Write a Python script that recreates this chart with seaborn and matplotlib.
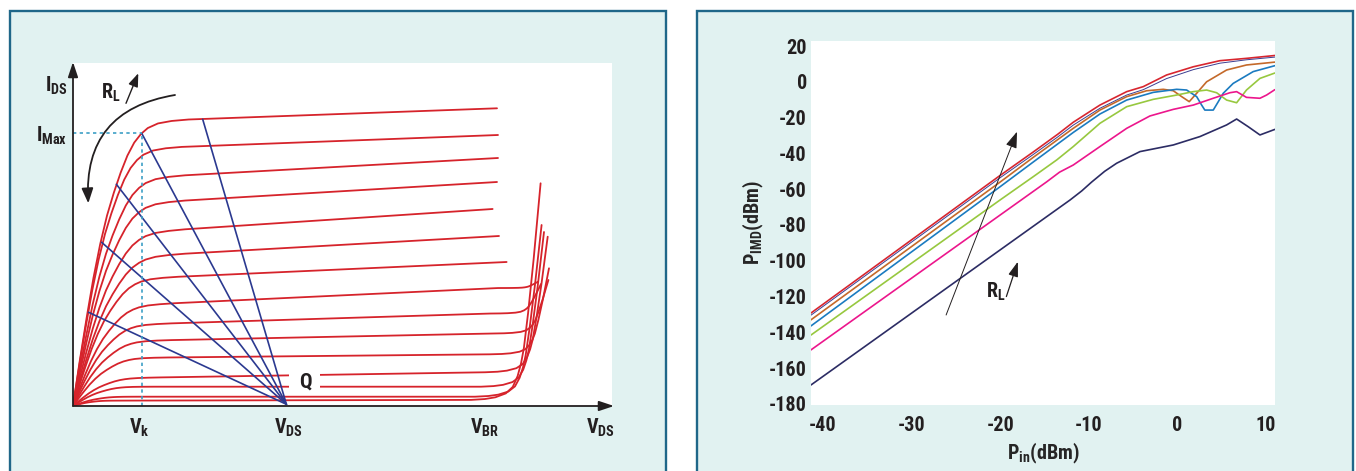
import matplotlib
matplotlib.use('Agg')
import matplotlib.pyplot as plt
from matplotlib import font_manager
from matplotlib.patches import Rectangle
import seaborn as sns

# ---------------- left panel: I-V family (arbitrary units) ----------------
# normalised knee shape: V / V_knee  ->  I / I_level
KNEE_U = [0, 0.1, 0.2, 0.3, 0.4, 0.5, 0.6, 0.7, 0.8, 0.9, 1.0, 1.1, 1.25, 1.45, 1.7, 2.0]
KNEE_F = [0, 0.16, 0.31, 0.45, 0.57, 0.67, 0.75, 0.82, 0.88, 0.925, 0.955, 0.975, 0.99, 0.997, 1.0, 1.0]

# upper curves: stay in saturation up to the end
FLAT_LEVEL = [282.3, 255.0, 224.5, 198.8, 169.3, 146.0, 124.5]
FLAT_VK = [68, 64, 66, 66, 66, 66, 62]
FLAT_VEND = [424, 425, 425, 424, 419.6, 426, 433.6]
FLAT_IEND = [297.7, 271.0, 248.0, 224.0, 197.0, 170.0, 144.0]

# lower curves: bend up into breakdown
BD_LEVEL = [98.0, 79.6, 63.9, 47.6, 27.2, 19.3, 9.3, 5.3]
BD_VK = [60, 58, 58, 56, 52, 48, 40, 30]
BD_I347 = [114.3, 90.3, 71.0, 51.0, 32.7, 19.3, 9.3, 6.0]
BD_VA = [425, 417, 420, 417, 412, 408, 402, 398]
BD_VEND = [465, 468, 475.4, 476, 474.7, 471, 468.6, 467.6]
BD_IEND = [124.3, 122.0, 126.0, 137.7, 169.3, 174.0, 181.0, 222.7]
# breakdown shape: fraction of the way from bend start to end point
BR_DV = [0, 0.2, 0.35, 0.5, 0.6, 0.67, 0.72, 0.76, 0.82, 0.9, 1.0]
BR_DI = [0, 0.004, 0.012, 0.03, 0.06, 0.11, 0.17, 0.24, 0.40, 0.65, 1.0]

# load lines from the Q point
Q_POINT = (213.4, 1.7)
LOAD_V = [129.7, 68.7, 43.4, 28.6, 15.5]
LOAD_I = [286.7, 272.7, 221.7, 163.7, 93.7]
V_KNEE, I_MAX = 68.7, 272.7

LEFT_XTICKS = [66, 215, 412, 527]
LEFT_XLABELS = [r'$\mathrm{V_{k}}$', r'$\mathrm{V_{DS}}$', r'$\mathrm{V_{BR}}$', r'$\mathrm{V_{DS}}$']
LEFT_YTICKS = [272.7, 323]
LEFT_YLABELS = [r'$\mathrm{I_{Max}}$', r'$\mathrm{I_{DS}}$']

# ---------------- right panel: P_IMD vs P_in ----------------
RED_X = [-41.35, -20.0, -16.26, -13.5, -11.75, -8.74, -5.72, -3.85, -1.22, 1.8, 4.8, 7.8, 11.0]
RED_Y = [-129.2, -52.3, -39.2, -29.3, -22.6, -13.0, -5.5, -2.7, 3.8, 8.4, 11.8, 13.1, 14.7]
NAVY_X = RED_X
NAVY_Y = [-130.4, -53.6, -40.6, -30.8, -24.2, -14.8, -7.4, -4.4, 1.8, 6.8, 10.4, 12.3, 13.8]
BROWN_X = [-41.35, -20.0, -16.26, -11.75, -8.74, -5.72, -3.47, -1.59, -0.46, 0.49, 1.34, 2.18, 3.3, 5.56, 7.8, 11.0]
BROWN_Y = [-133.0, -56.0, -42.2, -26.0, -15.8, -8.3, -5.0, -4.2, -5.0, -8.3, -11.1, -6.4, 0.0, 6.6, 9.4, 11.0]
BLUE_X = [-41.35, -20.0, -16.26, -11.75, -8.74, -5.72, -2.72, -0.08, 1.05, 2.18, 2.74, 3.1, 4.05, 4.62, 5.18, 6.3, 8.56, 11.0]
BLUE_Y = [-136.4, -58.6, -44.8, -28.3, -18.0, -10.2, -5.9, -4.2, -4.6, -8.3, -13.0, -15.8, -15.8, -11.1, -6.4, -0.9, 5.7, 9.0]
GREEN_X = [-41.35, -20.0, -16.26, -13.6, -12.6, -11.75, -8.74, -5.72, -2.72, -0.08, 1.8, 3.3, 4.43, 5.56, 6.69, 7.8, 9.32, 11.0]
GREEN_Y = [-141.5, -66.0, -53.0, -43.6, -39.6, -36.2, -23.2, -13.9, -9.8, -7.4, -5.5, -4.6, -6.1, -10.2, -11.7, -4.6, 1.9, 4.9]
PINK_X = [-41.35, -14.75, -13.3, -11.75, -8.74, -5.72, -3.1, -0.46, 1.8, 4.05, 5.93, 6.69, 7.8, 9.32, 10.07, 11.0]
PINK_Y = [-149.8, -55.9, -50.5, -46.5, -36.2, -26.0, -19.1, -15.4, -13.0, -9.2, -6.1, -5.5, -8.7, -9.2, -7.4, -4.4]
DARK_X = [-41.35, -12.1, -10.8, -9.67, -8.2, -6.85, -4.22, -0.46, 2.55, 5.56, 6.69, 8.0, 9.32, 11.0]
DARK_Y = [-169.4, -66.0, -61.0, -56.0, -50.0, -45.5, -39.0, -35.3, -30.6, -24.1, -20.8, -25.1, -29.7, -26.6]

RED = '#d6232b'
INK = '#231f20'
PANEL = '#e1f2f1'
EDGE = '#1f6789'

sns.set_style('white')
names = {f.name for f in font_manager.fontManager.ttflist}
FONT = next((n for n in ['Liberation Sans Narrow', 'Roboto Condensed', 'Open Sans Condensed',
                         'Roboto', 'Liberation Sans'] if n in names), 'DejaVu Sans')
plt.rcParams['font.family'] = [FONT, 'DejaVu Sans']
plt.rcParams['font.weight'] = 'bold'
plt.rcParams['mathtext.fontset'] = 'custom'
plt.rcParams['mathtext.rm'] = FONT + ':bold'
plt.rcParams['mathtext.it'] = FONT + ':bold'
plt.rcParams['mathtext.bf'] = FONT + ':bold'
plt.rcParams['axes.unicode_minus'] = False
plt.rcParams['text.color'] = INK

W, H = 1356, 471
fig = plt.figure(figsize=(W / 100, H / 100), dpi=100)
for x0, x1 in [(9.6, 666), (697, 1353)]:
    fig.patches.append(Rectangle((x0 / W, -0.05), (x1 - x0) / W, (H - 11) / H + 0.05,
                                 transform=fig.transFigure, facecolor=PANEL,
                                 edgecolor=EDGE, lw=1.7, zorder=-10))

# ================= left panel =================
axL = fig.add_axes([73 / W, 65 / H, 539 / W, 343 / H])
axL.set_facecolor('white')

for lvl, vk, vend, iend in zip(FLAT_LEVEL, FLAT_VK, FLAT_VEND, FLAT_IEND):
    g = (iend - lvl) / vend
    v = [u * vk for u in KNEE_U] + [vend]
    i = [lvl * f + g * u * vk for u, f in zip(KNEE_U, KNEE_F)] + [iend]
    sns.lineplot(x=v, y=i, ax=axL, color=RED, lw=1.3, sort=False, estimator=None)

for lvl, vk, i347, va, vend, iend in zip(BD_LEVEL, BD_VK, BD_I347, BD_VA, BD_VEND, BD_IEND):
    g = (i347 - lvl) / 347
    ia = lvl + g * va
    v = [u * vk for u in KNEE_U] + [va + d * (vend - va) for d in BR_DV]
    i = [lvl * f + g * u * vk for u, f in zip(KNEE_U, KNEE_F)] + [ia + d * (iend - ia) for d in BR_DI]
    sns.lineplot(x=v, y=i, ax=axL, color=RED, lw=1.3, sort=False, estimator=None)

# gap in the curves around the Q label
axL.add_patch(Rectangle((216, 14), 31, 22, facecolor='white', edgecolor='none', zorder=2.5))
axL.text(232.6, 24.3, 'Q', fontsize=15, ha='center', va='center', zorder=4)

for lv, li in zip(LOAD_V, LOAD_I):
    sns.lineplot(x=[Q_POINT[0], lv], y=[Q_POINT[1], li], ax=axL, color='#2b3990',
                 lw=1.2, sort=False, estimator=None, zorder=3)

axL.plot([0, V_KNEE], [I_MAX, I_MAX], color='#3d9fc6', lw=1.2, dashes=(2, 2), zorder=3)
axL.plot([V_KNEE, V_KNEE], [0, I_MAX], color='#3d9fc6', lw=1.2, dashes=(2, 2), zorder=3)

arrow_axis = dict(arrowstyle='-|>,head_length=0.9,head_width=0.3', color=INK, lw=1.3,
                  shrinkA=0, shrinkB=0)
axL.annotate('', xy=(0, 344), xytext=(0, 0), arrowprops=arrow_axis, annotation_clip=False)
axL.annotate('', xy=(541, 0), xytext=(0, 0), arrowprops=arrow_axis, annotation_clip=False)

axL.annotate('', xy=(15.3, 202.7), xytext=(102, 311),
             arrowprops=dict(arrowstyle='-|>,head_length=0.9,head_width=0.35', color=INK,
                             lw=1.3, shrinkA=0, shrinkB=0, connectionstyle='arc3,rad=0.45'))
axL.annotate('', xy=(65.3, 332.7), xytext=(53, 302.7),
             arrowprops=dict(arrowstyle='-|>,head_length=0.8,head_width=0.3', color=INK,
                             lw=1.0, shrinkA=0, shrinkB=0))
axL.text(38, 313, r'$\mathrm{R_{L}}$', fontsize=14.5, ha='center', va='center')

axL.set_xlim(0, 539)
axL.set_ylim(0, 343)
axL.set_xticks(LEFT_XTICKS, labels=LEFT_XLABELS)
axL.set_yticks(LEFT_YTICKS, labels=LEFT_YLABELS)
axL.tick_params(length=0, labelsize=14.5, colors=INK)
axL.tick_params(axis='x', pad=8)
axL.tick_params(axis='y', pad=4)
sns.despine(ax=axL, left=True, bottom=True)

# ================= right panel =================
axR = fig.add_axes([811 / W, 66 / H, 464 / W, 364 / H])
axR.set_facecolor('white')

series = [
    (RED_X, RED_Y, '#d8262f', 1.2),
    (NAVY_X, NAVY_Y, '#3b3d90', 0.7),
    (BROWN_X, BROWN_Y, '#c4692a', 1.2),
    (BLUE_X, BLUE_Y, '#1b7bc0', 1.2),
    (GREEN_X, GREEN_Y, '#97c83f', 1.2),
    (PINK_X, PINK_Y, '#ec168c', 1.2),
    (DARK_X, DARK_Y, '#2c2c64', 1.2),
]
for xs, ys, col, lw in series:
    sns.lineplot(x=xs, y=ys, ax=axR, color=col, lw=lw, sort=False, estimator=None)

axR.annotate('', xy=(-18.1, -27.9), xytext=(-26.1, -130.3),
             arrowprops=dict(arrowstyle='-|>,head_length=1.0,head_width=0.35', color=INK,
                             lw=0.7, shrinkA=0, shrinkB=0))
axR.annotate('', xy=(-18.0, -100.5), xytext=(-19.3, -120.0),
             arrowprops=dict(arrowstyle='-|>,head_length=0.9,head_width=0.3', color=INK,
                             lw=0.9, shrinkA=0, shrinkB=0))
axR.text(-20.5, -117.4, r'$\mathrm{R_{L}}$', fontsize=14.5, ha='center', va='center')

axR.set_xlim(-41.35, 11.02)
axR.set_ylim(-180.6, 22.8)
axR.set_xticks(range(-40, 11, 10))
axR.set_yticks(range(-180, 21, 20))
axR.tick_params(length=0, labelsize=14.5, colors=INK)
axR.tick_params(axis='x', pad=8)
axR.tick_params(axis='y', pad=3)
axR.set_xlabel(r'$\mathrm{P_{in}(dBm)}$', fontsize=14.5, labelpad=4)
axR.set_ylabel(r'$\mathrm{P_{IMD}(dBm)}$', fontsize=14.5, labelpad=2)
sns.despine(ax=axR, left=True, bottom=True, top=True, right=True)

fig.savefig('out.png', dpi=100)
